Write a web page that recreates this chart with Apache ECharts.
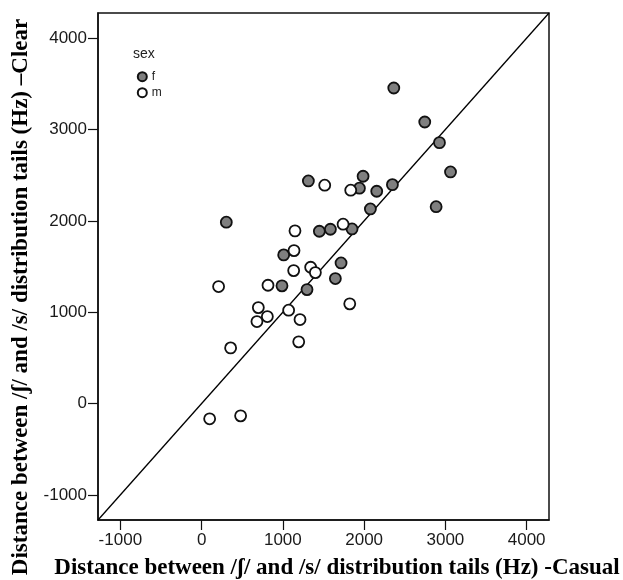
<!DOCTYPE html>
<html>
<head>
<meta charset="utf-8">
<script src="https://cdn.jsdelivr.net/npm/echarts@6/dist/echarts.min.js"></script>
<style>
html,body{margin:0;padding:0;background:#fff;}
#chart{width:623px;height:580px;}
</style>
</head>
<body>
<div id="chart"></div>
<script>
// Axis settings
const axisMin = -1275;
const axisMax = 4275;
const tickValues = [-1000, 0, 1000, 2000, 3000, 4000];

// Titles
const xTitle = 'Distance between /ʃ/ and /s/ distribution tails (Hz) -Casual';
const yTitle = 'Distance between /ʃ/ and /s/ distribution tails (Hz) –Clear';
const legendTitle = 'sex';
const groupNames = ['f', 'm'];

// Female (f) : [casual, clear]
const femaleCasual = [2365, 2746, 2927, 3063, 2886, 1987, 1314, 1942, 2155, 2348, 2077, 1449, 1585, 1851, 1716, 1646, 1297, 304, 1010, 989];
const femaleClear  = [3454, 3082, 2856, 2535, 2155, 2488, 2437, 2357, 2324, 2396, 2130, 1886, 1908, 1911, 1539, 1368, 1247, 1985, 1627, 1288];

// Male (m) : [casual, clear]
const maleCasual = [1149, 1137, 1133, 1342, 1400, 1515, 1835, 1741, 209, 817, 698, 809, 681, 1071, 1211, 1195, 357, 99, 480, 1823];
const maleClear  = [1890, 1674, 1455, 1492, 1433, 2390, 2335, 1963, 1280, 1295, 1050, 952, 897, 1022, 919, 675, 609, -167, -135, 1091];

const femaleData = femaleCasual.map((x, i) => [x, femaleClear[i]]);
const maleData = maleCasual.map((x, i) => [x, maleClear[i]]);
const identityLine = [[axisMin, axisMin], [axisMax, axisMax]];

const chart = echarts.init(document.getElementById('chart'), null, {renderer: 'canvas'});

const axisCommon = {
  type: 'value',
  min: axisMin,
  max: axisMax,
  splitLine: {show: false},
  axisLine: {show: true, onZero: false, lineStyle: {color: '#111', width: 1.5}},
  axisTick: {show: true, length: 10, inside: false, lineStyle: {color: '#111', width: 1.2}, customValues: tickValues},
  axisLabel: {
    show: true,
    color: '#1a1a1a',
    fontFamily: 'Liberation Sans, Arial, sans-serif',
    fontSize: 17,
    customValues: tickValues,
    formatter: v => String(v)
  }
};

chart.setOption({
  animation: false,
  backgroundColor: '#fff',
  title: {
    text: legendTitle,
    left: 133,
    top: 47,
    padding: 0,
    textStyle: {fontSize: 14, fontWeight: 'normal', color: '#222', fontFamily: 'Liberation Sans, Arial, sans-serif'}
  },
  legend: {
    orient: 'vertical',
    left: 136.8,
    top: 70.7,
    padding: 0,
    itemWidth: 9,
    itemHeight: 9,
    itemGap: 4,
    icon: 'circle',
    data: groupNames,
    textStyle: {fontSize: 12, color: '#222', fontFamily: 'Liberation Sans, Arial, sans-serif'}
  },
  grid: {left: 98, right: 74, top: 13, bottom: 60, show: true, borderColor: '#111', borderWidth: 1.5, backgroundColor: '#fff'},
  xAxis: Object.assign({}, axisCommon, {
    position: 'bottom',
    axisLabel: Object.assign({}, axisCommon.axisLabel, {margin: 12})
  }),
  yAxis: Object.assign({}, axisCommon, {
    position: 'left',
    axisLabel: Object.assign({}, axisCommon.axisLabel, {margin: 11})
  }),
  graphic: [
    {
      type: 'text',
      x: 337,
      y: 557,
      style: {text: xTitle, font: 'bold 23px "Liberation Serif", "Times New Roman", serif', fill: '#000', align: 'center', verticalAlign: 'top'}
    },
    {
      type: 'text',
      x: 10,
      y: 297,
      rotation: Math.PI / 2,
      style: {text: yTitle, font: 'bold 23px "Liberation Serif", "Times New Roman", serif', fill: '#000', align: 'center', verticalAlign: 'top'}
    }
  ],
  series: [
    {
      type: 'line',
      data: identityLine,
      symbol: 'none',
      silent: true,
      lineStyle: {color: '#000', width: 1.3},
      z: 1
    },
    {
      name: groupNames[0],
      type: 'scatter',
      data: femaleData,
      symbol: 'circle',
      symbolSize: 11,
      itemStyle: {color: '#7f7f7f', borderColor: '#111', borderWidth: 1.8, opacity: 1},
      z: 3
    },
    {
      name: groupNames[1],
      type: 'scatter',
      data: maleData,
      symbol: 'circle',
      symbolSize: 11,
      itemStyle: {color: '#fff', borderColor: '#111', borderWidth: 1.8, opacity: 1},
      z: 3
    }
  ]
});
</script>
</body>
</html>
